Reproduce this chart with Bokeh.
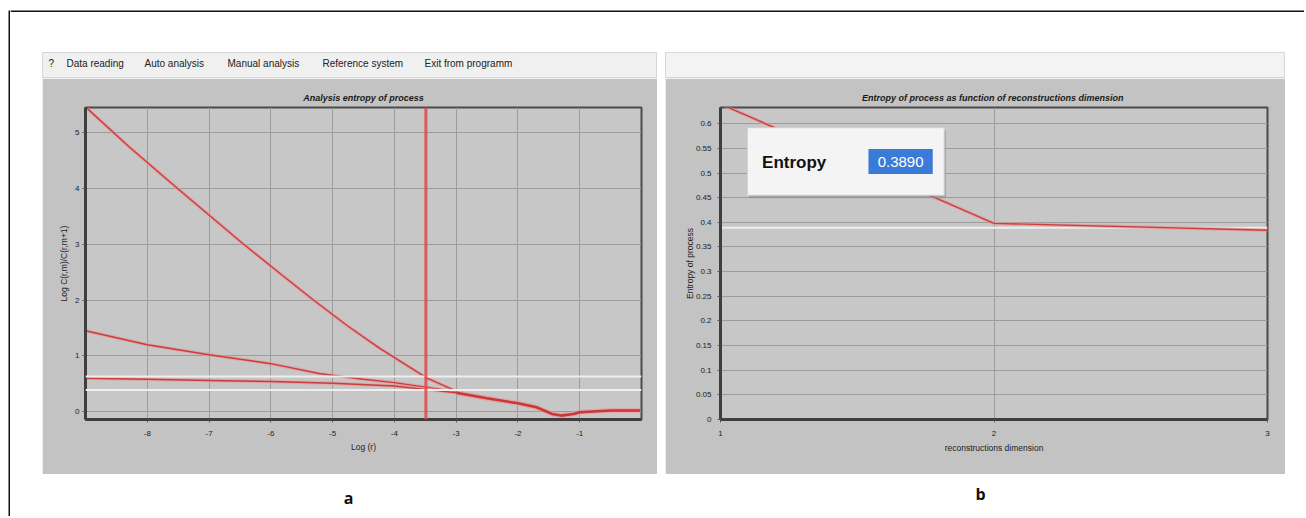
from bokeh.plotting import figure
from bokeh.layouts import row, column
from bokeh.models import Range1d, FixedTicker, CustomJSTickFormatter, Span
from bokeh.embed import file_html
from bokeh.resources import INLINE
from bokeh.core.properties import value

# ---------------- data ----------------
menu_items = ["?", "Data reading", "Auto analysis", "Manual analysis", "Reference system", "Exit from programm"]

log_r_ticks = [-8, -7, -6, -5, -4, -3, -2, -1]
log_c_ticks = [0, 1, 2, 3, 4, 5]

steep_x = [-8.97, -8.3, -7.51, -6.44, -5.8, -5.31, -4.75, -4.23, -3.47, -2.98]
steep_y = [5.43, 4.75, 4.0, 3.0, 2.43, 2.0, 1.53, 1.13, 0.6, 0.36]

mid_x = [-9.0, -8.0, -7.0, -6.0, -5.2, -4.5, -4.0, -3.5, -3.0]
mid_y = [1.45, 1.2, 1.02, 0.86, 0.68, 0.58, 0.52, 0.44, 0.36]

low_x = [-9.0, -8.0, -7.0, -6.0, -5.0, -4.0, -3.5, -3.0]
low_y = [0.60, 0.58, 0.56, 0.54, 0.51, 0.46, 0.40, 0.34]

tail_x = [-3.0, -2.5, -2.0, -1.7, -1.45, -1.3, -1.1, -1.0, -0.5, -0.02]
tail_y = [0.34, 0.24, 0.15, 0.08, -0.04, -0.07, -0.04, -0.01, 0.02, 0.02]

cut_log_r = -3.49
upper_level = 0.63
entropy_value = 0.3890

dims = [1, 2, 3]
dim_entropy = [0.64, 0.398, 0.384]
ent_ticks = [0, 0.05, 0.1, 0.15, 0.2, 0.25, 0.3, 0.35, 0.4, 0.45, 0.5, 0.55, 0.6]

FONT = "Liberation Sans"
PANEL = "#c3c3c3"
PLOTBG = "#c7c7c7"
RED = "#c92a2a"
HALO = "#e49a9a"


def no_align(f):
    if "frame_align" in f.properties():
        f.frame_align = False
    return f


def blank(w, h, color, margin=(0, 0, 0, 0)):
    f = figure(width=w, height=h, x_range=Range1d(0, w), y_range=Range1d(0, h),
               toolbar_location=None, output_backend="svg", min_border=0,
               x_axis_location=None, y_axis_location=None, margin=margin)
    f.grid.visible = False
    f.outline_line_color = None
    f.background_fill_color = color
    f.border_fill_color = color
    return no_align(f)


def style_axes(p):
    no_align(p)
    for ax in list(p.xaxis) + list(p.yaxis):
        ax.axis_line_width = 3
        ax.axis_line_color = "#3e3e3e"
        ax.major_tick_in = 0
        ax.major_tick_out = 3
        ax.major_tick_line_color = "#555555"
        ax.minor_tick_in = 0
        ax.minor_tick_out = 0
        ax.major_label_text_font = FONT
        ax.major_label_text_font_size = "8px"
        ax.major_label_text_color = "#222222"
        ax.axis_label_text_font = FONT
        ax.axis_label_text_font_size = "8.5px"
        ax.axis_label_text_font_style = "normal"
        ax.axis_label_text_color = "#222222"
    for g in list(p.xgrid) + list(p.ygrid):
        g.grid_line_color = "#9c9c9c"
        g.grid_line_width = 1
    p.outline_line_color = "#4a4a4a"
    p.outline_line_width = 2
    p.background_fill_color = PLOTBG
    p.border_fill_color = PANEL
    p.title.align = "center"
    p.title.text_font = FONT
    p.title.text_font_size = "9px"
    p.title.text_font_style = "bold italic"
    p.title.text_color = "#1a1a1a"


# ---------------- left chart ----------------
pl = figure(width=615, height=396, x_range=Range1d(-9, 0), y_range=Range1d(-0.14, 5.45),
            toolbar_location=None, output_backend="svg",
            min_border_left=43, min_border_right=16, min_border_top=29, min_border_bottom=55,
            title="Analysis entropy of process",
            x_axis_label="Log (r)", y_axis_label="Log C(r,m)/C(r,m+1)")
style_axes(pl)
pl.xaxis.ticker = FixedTicker(ticks=log_r_ticks)
pl.xgrid.ticker = FixedTicker(ticks=log_r_ticks)
pl.yaxis.ticker = FixedTicker(ticks=log_c_ticks)
pl.ygrid.ticker = FixedTicker(ticks=log_c_ticks)
fmt = CustomJSTickFormatter(code="return String(tick);")
pl.xaxis.formatter = fmt
pl.yaxis.formatter = fmt
pl.xaxis.major_label_standoff = 8
pl.yaxis.major_label_standoff = 3
pl.xaxis.axis_label_standoff = 3
pl.yaxis.axis_label_standoff = 3

for xs, ys in [(steep_x, steep_y), (mid_x, mid_y), (low_x, low_y)]:
    pl.line(xs, ys, line_color=HALO, line_width=3.5, line_alpha=0.7)
    pl.line(xs, ys, line_color=RED, line_width=1.4, line_alpha=0.85)
pl.line(tail_x, tail_y, line_color=HALO, line_width=5, line_alpha=0.7)
pl.line(tail_x, tail_y, line_color=RED, line_width=2.6, line_alpha=0.9)

pl.add_layout(Span(location=upper_level, dimension="width", line_color="#eeeeee", line_width=2))
pl.add_layout(Span(location=entropy_value, dimension="width", line_color="#eeeeee", line_width=2))
pl.add_layout(Span(location=cut_log_r, dimension="height", line_color="#e04646", line_width=3, line_alpha=0.85))

# ---------------- right chart ----------------
pr = figure(width=620, height=396, x_range=Range1d(1, 3), y_range=Range1d(0, 0.633),
            toolbar_location=None, output_backend="svg",
            min_border_left=55, min_border_right=18, min_border_top=29, min_border_bottom=55,
            title="Entropy of process as function of  reconstructions dimension",
            x_axis_label="reconstructions dimension", y_axis_label="Entropy of process")
style_axes(pr)
pr.xaxis.ticker = FixedTicker(ticks=dims)
pr.xgrid.ticker = FixedTicker(ticks=dims)
pr.yaxis.ticker = FixedTicker(ticks=ent_ticks)
pr.ygrid.ticker = FixedTicker(ticks=ent_ticks)
pr.xaxis.formatter = fmt
pr.yaxis.formatter = CustomJSTickFormatter(code="return String(Math.round(tick*100)/100);")
pr.xaxis.major_label_standoff = 8
pr.yaxis.major_label_standoff = 6
pr.xaxis.axis_label_standoff = 4
pr.yaxis.axis_label_standoff = -2

pr.add_layout(Span(location=entropy_value, dimension="width", line_color="#eeeeee", line_width=2, level="underlay"))
pr.line(dims, dim_entropy, line_color=HALO, line_width=3.5, line_alpha=0.7)
pr.line(dims, dim_entropy, line_color=RED, line_width=1.4, line_alpha=0.85)

# popup box with the entropy value (window chrome, placed in the chart's coordinates)
popup = dict(left=1.098, right=1.818, top=0.592, bottom=0.455)
hilite = dict(left=1.541, right=1.776, top=0.549, bottom=0.498)
pr.quad(left=[popup["left"] + 0.006], right=[popup["right"] + 0.006], top=[popup["top"] - 0.006],
        bottom=[popup["bottom"] - 0.006], fill_color="#8e8e8e", line_color=None, fill_alpha=0.6)
pr.quad(left=[popup["left"]], right=[popup["right"]], top=[popup["top"]], bottom=[popup["bottom"]],
        fill_color="#f4f4f4", line_color="#d0d0d0", line_width=1)
pr.quad(left=[hilite["left"]], right=[hilite["right"]], top=[hilite["top"]], bottom=[hilite["bottom"]],
        fill_color="#3a7bd8", line_color=None)
pr.text(x=[1.152], y=[0.521], text=["Entropy"], text_font=value(FONT), text_font_style="bold",
        text_font_size="17px", text_color="#111111", text_baseline="middle", text_align="left")
pr.text(x=[(hilite["left"] + hilite["right"]) / 2], y=[0.522], text=["%.4f" % entropy_value],
        text_font=value(FONT), text_font_size="15px", text_color="#ffffff",
        text_baseline="middle", text_align="center")

# ---------------- window chrome ----------------
menu_l = blank(615, 26, "#f0f0f0")
menu_l.outline_line_color = "#d6d6d6"
menu_x = [6, 24, 102, 185, 280, 382]
menu_l.text(x=menu_x, y=[15] * len(menu_x), text=menu_items, text_font=value(FONT),
            text_font_size="10px", text_color="#222222", text_baseline="middle", text_align="left")

menu_r = blank(620, 26, "#f3f3f3")
menu_r.outline_line_color = "#d6d6d6"

lab_a = blank(615, 34, "#ffffff")
lab_a.text(x=[306], y=[11], text=["a"], text_font=value("Open Sans"), text_font_style="bold",
           text_font_size="16px", text_color="#111111", text_baseline="middle", text_align="center")
lab_b = blank(620, 34, "#ffffff")
lab_b.text(x=[315], y=[15], text=["b"], text_font=value("Open Sans"), text_font_style="bold",
           text_font_size="16px", text_color="#111111", text_baseline="middle", text_align="center")

left_col = column(menu_l, pl, lab_a, margin=(40, 0, 0, 32))
right_col = column(menu_r, pr, lab_b, margin=(40, 0, 0, 8))
content = row(left_col, right_col)

# outer frame of the figure: a left rule and a top rule
left_line = blank(2, 506, "#111111", margin=(10, 0, 0, 8))
top_bar = blank(1294, 12, "#ffffff")
top_bar.add_layout(Span(location=1, dimension="width", line_color="#111111", line_width=2))

page = row(left_line, column(top_bar, content))

open("out.html", "w").write(file_html(page, INLINE))
